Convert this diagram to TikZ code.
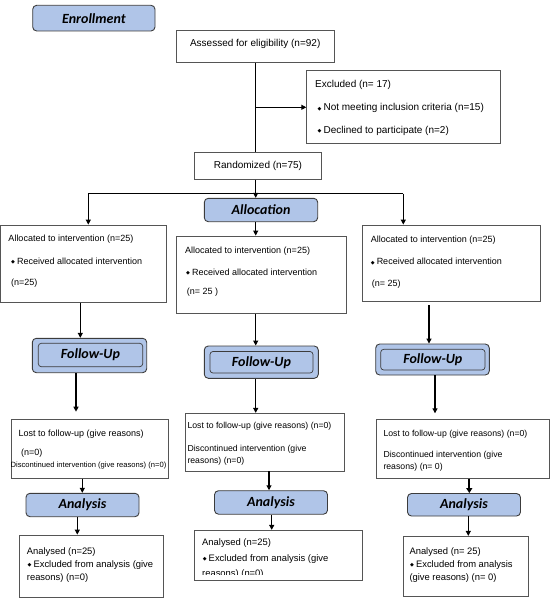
\documentclass[tikz,border=0pt]{standalone}
\usepackage{fontspec}
\setmainfont{Liberation Sans}
\newfontfamily\titlefont{Carlito}
\newfontfamily\symfont{DejaVu Sans}
\usetikzlibrary{arrows.meta,fit}
\definecolor{tblue}{RGB}{176,197,232}
\definecolor{tborder}{RGB}{60,60,60}
\definecolor{bborder}{RGB}{85,85,85}
\newcommand\bul{\raisebox{0.6pt}{\symfont\fontsize{5}{5}\selectfont ◆}\hspace{2pt}}
\tikzset{
 box/.style={draw=bborder, line width=0.8pt, inner sep=0pt},
 title/.style={draw=tborder, fill=tblue, rounded corners=4pt, line width=0.9pt, inner sep=0pt},
 ttext/.style={inner sep=0pt, anchor=center, font=\titlefont\fontsize{14}{16}\selectfont\bfseries\itshape},
 inbox/.style={draw=tborder, rounded corners=3pt, line width=0.7pt, inner sep=0pt},
 txt/.style={anchor=west, inner sep=0pt, font=\fontsize{9}{10}\selectfont},
 big/.style={font=\fontsize{10}{12}\selectfont},
 mid/.style={font=\fontsize{8.7}{10}\selectfont},
 ana/.style={font=\fontsize{9.4}{11}\selectfont},
 arr/.style={-{Triangle[length=5pt,width=5pt]}, line width=1.1pt},
 ln/.style={line width=1.1pt},
}
\begin{document}
\begin{tikzpicture}[x=1pt,y=-1pt]
\useasboundingbox (0,0) rectangle (550,599);
% ---- titles
\node[title, fit={(32.7,5.3) (155,31)}] (enroll) {};
\node[ttext] (tenroll) at (enroll.center) {Enrollment};
\node[title, fit={(204.3,198.3) (317.7,221.7)}] (alloc) {};
\node[ttext] (talloc) at (alloc.center) {Allocation};
\node[title, fit={(32.3,338.3) (146.7,372.7)}] (ful) {};
\node[inbox, fit={(38.3,343.3) (142.7,366.7)}] (fuli) {};
\node[ttext] (tful) at (fuli.center) {Follow-Up};
\node[title, fit={(204.3,346) (318.3,378.3)}] (fum) {};
\node[inbox, fit={(210,351.5) (313,373)}] (fumi) {};
\node[ttext] (tfum) at (fumi.center) {Follow-Up};
\node[title, fit={(375.7,344) (489.3,375)}] (fur) {};
\node[inbox, fit={(380.7,349.3) (485,370)}] (furi) {};
\node[ttext] (tfur) at (furi.center) {Follow-Up};
\node[title, fit={(26,493.3) (139,516.7)}] (anl) {};
\node[ttext] (tanl) at (anl.center) {Analysis};
\node[title, fit={(214.5,490.7) (327.5,514.2)}] (anm) {};
\node[ttext] (tanm) at (anm.center) {Analysis};
\node[title, fit={(407.5,493.5) (520.5,516)}] (anr) {};
\node[ttext] (tanr) at (anr.center) {Analysis};
% ---- boxes
\node[box, fit={(176,30.5) (334.3,62.3)}] (assess) {};
\node[box, fit={(306.7,70.7) (500.7,143.3)}] (excl) {};
\node[box, fit={(194.3,152) (321.7,179.3)}] (rand) {};
\node[box, fit={(0.5,225) (166.7,302.3)}] (la) {};
\node[box, fit={(176.7,236) (346.7,313.3)}] (ma) {};
\node[box, fit={(362.3,225) (540,301.7)}] (ra) {};
\node[box, fit={(11,419.3) (168.3,478.3)}] (lf) {};
\node[box, fit={(185,413.3) (344,471)}] (mf) {};
\node[box, fit={(376,419.3) (549,478.3)}] (rf) {};
\node[box, fit={(19,535) (163.3,597.3)}] (lr) {};
\node[box, fit={(194.3,530.3) (362.5,580.3)}] (mr) {};
\node[box, fit={(403.3,536.3) (528,596)}] (rr) {};
% ---- texts
\node[txt, big, anchor=center] (t1) at (255.2,44) {Assessed for eligibility (n=92)};
\node[txt, big] (t2) at (315,85) {Excluded (n= 17)};
\node[txt, big] (t3) at (317.5,108.3) {\bul Not meeting inclusion criteria (n=15)};
\node[txt, big] (t4) at (317.5,131) {\bul Declined to participate (n=2)};
\node[txt, big, anchor=center] (t5) at (258,165.5) {Randomized (n=75)};
\node[txt] (t6) at (8.3,239) {Allocated to intervention (n=25)};
\node[txt] (t7) at (11,261) {\bul Received allocated intervention};
\node[txt] (t8) at (11,283.3) {(n=25)};
\node[txt] (t9) at (185,251) {Allocated to intervention (n=25)};
\node[txt] (t10) at (186,272.3) {\bul Received allocated intervention};
\node[txt] (t11) at (186.7,292) {(n= 25 )};
\node[txt] (t12) at (370.7,240) {Allocated to intervention (n=25)};
\node[txt] (t13) at (370.7,261.7) {\bul Received allocated intervention};
\node[txt] (t14) at (371.7,284) {(n= 25)};
\node[txt] (t15) at (18.3,434) {Lost to follow-up (give reasons)};
\node[txt] (t16) at (21,453.3) {(n=0)};
\node[txt, font=\fontsize{7.6}{9}\selectfont] (t17) at (10.5,465.7) {Discontinued intervention (give reasons) (n=0)};
\node[txt, mid] (t18) at (187.3,426) {Lost to follow-up (give reasons) (n=0)};
\node[txt, mid] (t19) at (187.3,449.3) {Discontinued intervention (give};
\node[txt, mid] (t20) at (187.3,461.7) {reasons) (n=0)};
\node[txt, mid] (t21) at (383.3,434) {Lost to follow-up (give reasons) (n=0)};
\node[txt, mid] (t22) at (383.3,455) {Discontinued intervention (give};
\node[txt, mid] (t23) at (383.3,467.3) {reasons) (n= 0)};
\node[txt, ana] (t24) at (26.7,551.7) {Analysed (n=25)};
\node[txt, ana] (t25) at (27.5,565) {\bul Excluded from analysis (give};
\node[txt, ana] (t26) at (26.7,578.3) {reasons) (n=0)};
\node[txt, ana] (t27) at (202,543.5) {Analysed (n=25)};
\node[txt, ana] (t28) at (202.7,559) {\bul Excluded from analysis (give};
\begin{scope}
\clip (194,566) rectangle (362,574);
\node[txt, ana] (t29) at (202,574) {reasons) (n=0)};
\end{scope}
\node[txt, ana] (t30) at (409.3,551.7) {Analysed (n= 25)};
\node[txt, ana] (t31) at (410,565) {\bul Excluded from analysis};
\node[txt, ana] (t32) at (409.3,578) {(give reasons) (n= 0)};
% ---- connectors
\coordinate (cx) at (255.7,0);
\draw[ln] (cx |- assess.south) -- (cx |- rand.north);
\coordinate (br) at (255.7,107.3);
\draw[arr] (br) -- (excl.west |- br);
\draw[arr] (cx |- rand.south) -- (cx |- alloc.north);
\coordinate (hl) at (88.3,193.7);
\coordinate (hr) at (403.3,193.7);
\draw[ln] (hl) -- (hr);
\draw[arr] (hl) -- (hl |- la.north);
\draw[arr] (hr) -- (hr |- ra.north);
\draw[arr] (cx |- alloc.south) -- (cx |- ma.north);
\draw[arr] (80.3,0 |- la.south) -- (80.3,0 |- ful.north);
\draw[arr] (cx |- ma.south) -- (cx |- fum.north);
\draw[arr] (429,305) -- (429,0 |- fur.north);
\draw[arr] (76,0 |- ful.south) -- (76,411.7);
\draw[arr] (cx |- fum.south) -- (cx |- mf.north);
\draw[arr] (435,0 |- fur.south) -- (435,413.3);
\draw[arr] (82.3,0 |- lf.south) -- (82.3,0 |- anl.north);
\draw[arr] (269,0 |- mf.south) -- (269,0 |- anm.north);
\draw[-{Triangle[length=5pt,width=6pt]}, line width=2pt] (469.3,0 |- rf.south) -- (469.3,0 |- anr.north);
\draw[arr] (77.3,0 |- anl.south) -- (77.3,0 |- lr.north);
\draw[arr] (271.7,0 |- anm.south) -- (271.7,0 |- mr.north);
\draw[arr] (468.3,0 |- anr.south) -- (468.3,0 |- rr.north);
\end{tikzpicture}
\end{document}
